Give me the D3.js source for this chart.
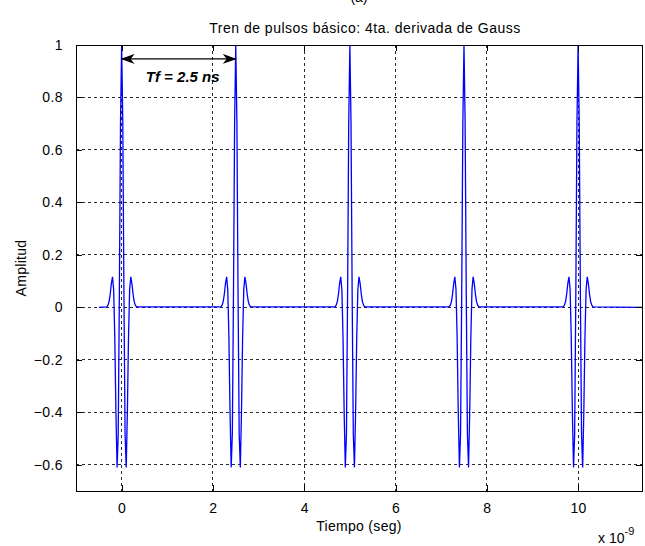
<!DOCTYPE html>
<html>
<head>
<meta charset="utf-8">
<script src="https://cdn.jsdelivr.net/npm/d3@7/dist/d3.min.js"></script>
<style>
  body { margin: 0; background: #fff; }
  text { font-family: "Liberation Sans", Arial, sans-serif; fill: #000; }
</style>
</head>
<body>
<svg id="chart"></svg>
<script>
// time axis in ns (labels multiplied by 10^-9)
var xTicks = [0, 2, 4, 6, 8, 10];
var yTicks = [-0.6, -0.4, -0.2, 0, 0.2, 0.4, 0.6, 0.8, 1];

// one pulse: sample offsets (ns) and amplitudes
var pulseOffsets = [-0.325, -0.3, -0.275, -0.25, -0.225, -0.2, -0.175, -0.15, -0.125, -0.1, -0.075, -0.05, -0.025,
                    0,
                    0.025, 0.05, 0.075, 0.1, 0.125, 0.15, 0.175, 0.2, 0.225, 0.25, 0.275, 0.3, 0.325];
var pulseAmps = [0.002, 0.008, 0.022, 0.051, 0.091, 0.116, 0.067, -0.116, -0.403, -0.610, -0.482, 0.051, 0.704,
                 1,
                 0.704, 0.051, -0.482, -0.610, -0.403, -0.116, 0.067, 0.116, 0.091, 0.051, 0.022, 0.008, 0.002];

// pulse positions in the train (ns) and the span of the trace
var pulseCenters = [0, 2.5, 5, 7.5, 10];
var traceSpan = [-0.5, 11.4];

// Tf marker between the first two pulses
var periodMark = {from: 0, to: 2.5, level: 0.947, label: "Tf = 2.5 ns"};

var W = 645, H = 546;
var margin = {top: 45, right: 3, bottom: 55, left: 76};
var width = W - margin.left - margin.right,
    height = H - margin.top - margin.bottom;

var svg = d3.select("#chart")
  .attr("width", W)
  .attr("height", H);

svg.append("rect").attr("width", W).attr("height", H).attr("fill", "#fff");

var x = d3.scaleLinear().domain([-1, 11.4]).range([0, width]);
var y = d3.scaleLinear().domain([-0.7, 1]).range([height, 0]);

// build the whole train from the pulse samples
var trace = [[traceSpan[0], 0]];
pulseCenters.forEach(function(c) {
  pulseOffsets.forEach(function(o, i) { trace.push([c + o, pulseAmps[i]]); });
});
trace.push([traceSpan[1], 0]);

var g = svg.append("g").attr("transform", "translate(" + margin.left + "," + margin.top + ")");

svg.append("defs").append("clipPath").attr("id", "plotClip")
  .append("rect").attr("width", width).attr("height", height);

svg.append("defs").append("marker")
    .attr("id", "head")
    .attr("viewBox", "0 0 14 10")
    .attr("refX", 13).attr("refY", 5)
    .attr("markerWidth", 14).attr("markerHeight", 10)
    .attr("markerUnits", "userSpaceOnUse")
    .attr("orient", "auto-start-reverse")
  .append("path")
    .attr("d", "M0,0 L14,5 L0,10 L4,5 Z")
    .attr("fill", "#000");

// dotted grid
g.append("g").selectAll("line")
  .data(xTicks).enter().append("line")
    .attr("x1", function(d) { return x(d); })
    .attr("x2", function(d) { return x(d); })
    .attr("y1", 0).attr("y2", height)
    .attr("stroke", "#2a2a2a").attr("stroke-width", 1)
    .attr("stroke-dasharray", "3,3")
    .attr("shape-rendering", "crispEdges");

g.append("g").selectAll("line")
  .data(yTicks).enter().append("line")
    .attr("x1", 0).attr("x2", width)
    .attr("y1", function(d) { return y(d); })
    .attr("y2", function(d) { return y(d); })
    .attr("stroke", "#2a2a2a").attr("stroke-width", 1)
    .attr("stroke-dasharray", "3,3")
    .attr("shape-rendering", "crispEdges");

// signal
var line = d3.line()
  .x(function(d) { return x(d[0]); })
  .y(function(d) { return y(d[1]); });

g.append("path")
  .datum(trace)
  .attr("clip-path", "url(#plotClip)")
  .attr("fill", "none")
  .attr("stroke", "#0000ff")
  .attr("stroke-width", 1.3)
  .attr("stroke-linejoin", "miter")
  .attr("d", line);

// axes on all four sides, ticks pointing in
var fmt = function(d) { return d3.format("")(+d.toFixed(1)); };
var axB = g.append("g").attr("transform", "translate(0," + height + ")")
  .call(d3.axisBottom(x).tickValues(xTicks).tickSizeInner(-6).tickSizeOuter(0).tickPadding(12).tickFormat(fmt));
var axT = g.append("g")
  .call(d3.axisTop(x).tickValues(xTicks).tickSizeInner(-6).tickSizeOuter(0).tickFormat(""));
var axL = g.append("g")
  .call(d3.axisLeft(y).tickValues(yTicks).tickSizeInner(-6).tickSizeOuter(0).tickPadding(13).tickFormat(fmt));
var axR = g.append("g").attr("transform", "translate(" + width + ",0)")
  .call(d3.axisRight(y).tickValues(yTicks).tickSizeInner(-6).tickSizeOuter(0).tickFormat(""));

[axB, axT, axL, axR].forEach(function(a) {
  a.select(".domain").remove();
  a.selectAll("line").attr("stroke", "#000").attr("shape-rendering", "crispEdges");
  a.selectAll("text").style("font-size", "14px").attr("fill", "#000")
    .style("letter-spacing", "0.4px")
    .style("font-family", "'Liberation Sans', Arial, sans-serif");
});

g.append("rect")
  .attr("width", width).attr("height", height)
  .attr("fill", "none").attr("stroke", "#000").attr("stroke-width", 1)
  .attr("shape-rendering", "crispEdges");

// Tf annotation
g.append("line")
  .attr("x1", x(periodMark.from)).attr("x2", x(periodMark.to))
  .attr("y1", y(periodMark.level)).attr("y2", y(periodMark.level))
  .attr("stroke", "#000").attr("stroke-width", 1.2)
  .attr("marker-start", "url(#head)")
  .attr("marker-end", "url(#head)");

g.append("text")
  .attr("x", (x(periodMark.from) + x(periodMark.to)) / 2 + 4)
  .attr("y", y(periodMark.level) + 23)
  .attr("text-anchor", "middle")
  .style("font-size", "15px").style("font-weight", "bold").style("font-style", "italic")
  .text(periodMark.label);

// titles
svg.append("text")
  .attr("x", margin.left + width / 2).attr("y", 2)
  .attr("text-anchor", "middle")
  .style("font-size", "14px")
  .text("(a)");

svg.append("text")
  .attr("x", margin.left + width / 2 + 6).attr("y", 33)
  .attr("text-anchor", "middle")
  .style("font-size", "14px")
  .style("letter-spacing", "0.5px")
  .text("Tren de pulsos básico: 4ta. derivada de Gauss");

svg.append("text")
  .attr("x", margin.left + width / 2).attr("y", 531)
  .attr("text-anchor", "middle")
  .style("font-size", "14px")
  .style("letter-spacing", "0.3px")
  .text("Tiempo (seg)");

svg.append("text")
  .attr("transform", "translate(26," + (margin.top + y(0.15)) + ") rotate(-90)")
  .attr("text-anchor", "middle")
  .style("font-size", "14px")
  .style("letter-spacing", "0.3px")
  .text("Amplitud");

var expo = svg.append("text")
  .attr("x", 598).attr("y", 543)
  .style("font-size", "14px");
expo.append("tspan").text("x 10");
expo.append("tspan").attr("dy", -8).style("font-size", "11px").text("-9");
</script>
</body>
</html>
